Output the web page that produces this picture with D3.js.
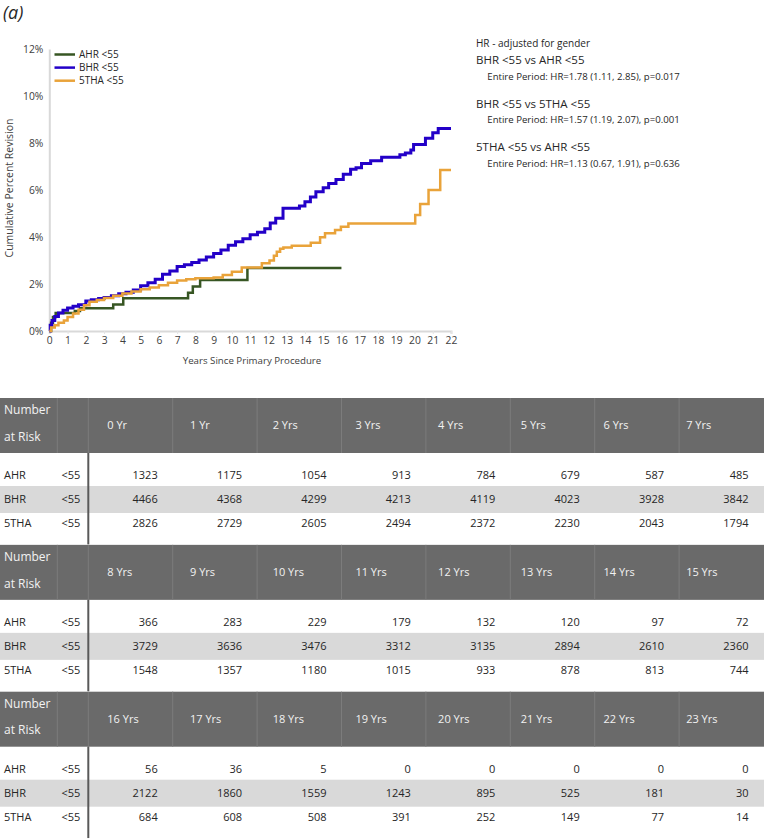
<!DOCTYPE html>
<html>
<head>
<meta charset="utf-8">
<script src="https://cdn.jsdelivr.net/npm/d3@7"></script>
<style>
  body { margin: 0; background: #fff; }
  svg { display: block; font-family: "Open Sans", sans-serif; }
</style>
</head>
<body>
<svg id="myGraph" width="765" height="839"></svg>
<script>
// survival curves (cumulative percent revision)
var ahrYears = [0, 0.1, 0.2, 0.35, 1.4, 1.68, 3.5, 4.05, 7.6, 7.86, 8.26, 10.85, 16.0];
var ahrPct   = [0, 0.35, 0.6, 0.77, 0.85, 0.97, 1.13, 1.39, 1.63, 1.89, 2.17, 2.68, 2.68];

var bhrYears = [0, 0.05, 0.15, 0.3, 0.5, 0.75, 1.0, 1.3, 1.6, 2.0, 2.3, 2.7, 3.0, 3.4, 3.8, 4.2, 4.6, 5.0, 5.4, 5.8,
                6.2, 6.6, 7.0, 7.4, 7.8, 8.2, 8.6, 9.0, 9.4, 9.8, 10.2, 10.6, 11.0, 11.4, 11.8, 12.1, 12.4, 12.8, 13.7,
                14.0, 14.3, 14.6, 15.0, 15.3, 15.7, 16.1, 16.5, 16.8, 17.1, 17.6, 18.2, 19.2, 19.5, 19.8, 19.95, 20.6,
                21.0, 21.3, 22];
var bhrPct   = [0, 0.25, 0.45, 0.62, 0.77, 0.88, 0.98, 1.05, 1.12, 1.28, 1.33, 1.38, 1.43, 1.5, 1.58, 1.65, 1.75, 1.93, 2.05, 2.2,
                2.42, 2.55, 2.75, 2.82, 2.92, 3.02, 3.15, 3.3, 3.45, 3.65, 3.8, 3.93, 4.1, 4.2, 4.35, 4.6, 4.8, 5.22, 5.32,
                5.5, 5.7, 5.93, 6.1, 6.28, 6.45, 6.67, 6.88, 6.95, 7.13, 7.25, 7.39, 7.5, 7.57, 7.7, 7.94, 8.2,
                8.44, 8.62, 8.62];

var thaYears = [0, 0.1, 0.3, 0.5, 0.8, 1.0, 1.3, 1.6, 1.9, 2.2, 2.6, 3.0, 3.5, 4.0, 4.5, 5.0, 5.5, 6.0, 6.5, 7.0, 7.5,
                8.0, 9.0, 9.5, 10.0, 10.54, 11.64, 12.06, 12.3, 12.46, 12.64, 12.82, 13.28, 14.32, 14.83, 15.1, 15.65,
                15.97, 16.38, 20.04, 20.31, 20.77, 21.41, 22];
var thaPct   = [0, 0.15, 0.25, 0.35, 0.45, 0.6, 0.75, 0.9, 1.1, 1.25, 1.32, 1.4, 1.5, 1.6, 1.68, 1.78, 1.85, 1.95, 2.05, 2.15, 2.2,
                2.24, 2.28, 2.38, 2.52, 2.7, 2.88, 3.0, 3.2, 3.37, 3.5, 3.55, 3.63, 3.76, 3.99, 4.16, 4.3,
                4.44, 4.57, 4.94, 5.4, 6.0, 6.85, 6.85];

var seriesNames = ["AHR <55", "BHR <55", "5THA <55"];
var yTicks = [0, 2, 4, 6, 8, 10, 12];
var xTicks = d3.range(0, 23);

var hrTitles = ["BHR <55 vs AHR <55", "BHR <55 vs 5THA <55", "5THA <55 vs AHR <55"];
var hrTexts = ["Entire Period: HR=1.78 (1.11, 2.85), p=0.017",
               "Entire Period: HR=1.57 (1.19, 2.07), p=0.001",
               "Entire Period: HR=1.13 (0.67, 1.91), p=0.636"];

// number at risk table
var riskYears = ["0 Yr", "1 Yr", "2 Yrs", "3 Yrs", "4 Yrs", "5 Yrs", "6 Yrs", "7 Yrs",
                 "8 Yrs", "9 Yrs", "10 Yrs", "11 Yrs", "12 Yrs", "13 Yrs", "14 Yrs", "15 Yrs",
                 "16 Yrs", "17 Yrs", "18 Yrs", "19 Yrs", "20 Yrs", "21 Yrs", "22 Yrs", "23 Yrs"];
var riskGroups = ["AHR", "BHR", "5THA"];
var ahrRisk = [1323, 1175, 1054, 913, 784, 679, 587, 485, 366, 283, 229, 179, 132, 120, 97, 72, 56, 36, 5, 0, 0, 0, 0, 0];
var bhrRisk = [4466, 4368, 4299, 4213, 4119, 4023, 3928, 3842, 3729, 3636, 3476, 3312, 3135, 2894, 2610, 2360,
               2122, 1860, 1559, 1243, 895, 525, 181, 30];
var thaRisk = [2826, 2729, 2605, 2494, 2372, 2230, 2043, 1794, 1548, 1357, 1180, 1015, 933, 878, 813, 744,
               684, 608, 508, 391, 252, 149, 77, 14];

var colors = ["#375623", "#2300c8", "#e9a33a"];
var widths = [2.5, 3, 2.5];

var svg = d3.select("#myGraph");

svg.append("text").attr("x", 3).attr("y", 19)
	.style("font-size", "18px").style("font-style", "italic").attr("fill", "#262626")
	.text("(a)");

var x = d3.scaleLinear().domain([0, 22]).range([49.3, 451]);
var y = d3.scaleLinear().domain([0, 12]).range([331, 49]);

// axes
var yAxis = svg.append("g").attr("transform", "translate(49.3,0)")
	.call(d3.axisLeft(y).tickValues(yTicks).tickSize(0).tickPadding(6).tickFormat(function(d){ return d + "%"; }));
var xAxis = svg.append("g").attr("transform", "translate(0,331)")
	.call(d3.axisBottom(x).tickValues(xTicks).tickSize(3).tickPadding(3).tickFormat(d3.format("d")));

[yAxis, xAxis].forEach(function(a){
	a.select(".domain").attr("stroke", "#d9d9d9").attr("stroke-width", 2);
	a.selectAll(".tick line").attr("stroke", "#e4e4e4");
	a.selectAll("text").style("font-size", "10.3px").attr("fill", "#404040").attr("font-family", "Open Sans");
});

svg.append("text")
	.attr("transform", "translate(13,188) rotate(-90)")
	.attr("text-anchor", "middle").style("font-size", "10.5px").attr("fill", "#404040")
	.text("Cumulative Percent Revision");
svg.append("text")
	.attr("x", 252).attr("y", 364)
	.attr("text-anchor", "middle").style("font-size", "9.7px").attr("fill", "#404040")
	.text("Years Since Primary Procedure");

// curves
var lineGen = d3.line()
	.x(function(d){ return x(d[0]); })
	.y(function(d){ return y(d[1]); })
	.curve(d3.curveStepAfter);

var curves = [d3.zip(ahrYears, ahrPct), d3.zip(bhrYears, bhrPct), d3.zip(thaYears, thaPct)];

svg.append("g").selectAll("path")
	.data(curves)
	.enter()
	.append("path")
	.attr("d", lineGen)
	.attr("fill", "none")
	.attr("stroke", function(d, i){ return colors[i]; })
	.attr("stroke-width", function(d, i){ return widths[i]; });

// legend
var legend = svg.append("g").selectAll("g")
	.data(seriesNames)
	.enter()
	.append("g")
	.attr("transform", function(d, i){ return "translate(54.5," + (54.5 + i * 13.1) + ")"; });
legend.append("line")
	.attr("x1", 0).attr("x2", 20.5)
	.attr("stroke", function(d, i){ return colors[i]; })
	.attr("stroke-width", 2.5);
legend.append("text")
	.attr("x", 24.5).attr("dy", "0.35em")
	.style("font-size", "10px").attr("fill", "#262626")
	.text(function(d){ return d; });

// hazard ratio notes
svg.append("text").attr("x", 476).attr("y", 47.3)
	.style("font-size", "10px").attr("fill", "#262626")
	.text("HR - adjusted for gender");
var notes = svg.append("g").selectAll("g")
	.data(hrTitles)
	.enter()
	.append("g")
	.attr("transform", function(d, i){ return "translate(476," + (64.3 + i * 43.4) + ")"; });
notes.append("text")
	.style("font-size", "11.5px").attr("fill", "#262626")
	.text(function(d){ return d; });
notes.append("text")
	.attr("x", 11.3).attr("y", 15.8)
	.style("font-size", "9.6px").attr("fill", "#262626")
	.text(function(d, i){ return hrTexts[i]; });

// number at risk table, three blocks of eight columns
var tableTop = 398, blockH = 146.85, headH = 55;
var colX0 = 88.3, colW = 84.4, labelColX = 57.3;
var rowMid = [22.5, 46.5, 70];
var riskRows = [ahrRisk, bhrRisk, thaRisk];

var blocks = svg.append("g").selectAll("g")
	.data([0, 1, 2])
	.enter()
	.append("g")
	.attr("transform", function(b){ return "translate(0," + (tableTop + b * blockH) + ")"; });

blocks.append("rect")
	.attr("x", 0).attr("width", 764).attr("height", headH)
	.attr("fill", "#6a6a6a");
blocks.append("rect")
	.attr("x", 0).attr("y", headH + 33).attr("width", 764).attr("height", 27)
	.attr("fill", "#d9d9d9");

blocks.selectAll(".hdiv")
	.data(function(){ return [labelColX].concat(d3.range(8).map(function(k){ return colX0 + k * colW; })); })
	.enter()
	.append("line")
	.attr("class", "hdiv")
	.attr("x1", function(d){ return d; }).attr("x2", function(d){ return d; })
	.attr("y1", 0).attr("y2", headH)
	.attr("stroke", "#7c7c7c").attr("stroke-width", 1);

blocks.append("line")
	.attr("x1", colX0).attr("x2", colX0)
	.attr("y1", headH).attr("y2", blockH - 0.5)
	.attr("stroke", "#595959").attr("stroke-width", 2);

blocks.append("text")
	.attr("x", 4).attr("y", headH / 2 - 15.5).attr("dy", "0.35em")
	.style("font-size", "12px").attr("fill", "#f2f2f2")
	.text("Number");
blocks.append("text")
	.attr("x", 4).attr("y", headH / 2 + 11).attr("dy", "0.35em")
	.style("font-size", "12px").attr("fill", "#f2f2f2")
	.text("at Risk");

blocks.selectAll(".yr")
	.data(function(b){ return riskYears.slice(b * 8, b * 8 + 8); })
	.enter()
	.append("text")
	.attr("class", "yr")
	.attr("x", function(d, k){ return colX0 + 19 + k * 82.7; })
	.attr("y", headH / 2).attr("dy", "0.35em")
	.style("font-size", "11px").attr("fill", "#f2f2f2")
	.text(function(d){ return d; });

blocks.selectAll(".grp")
	.data(riskGroups)
	.enter()
	.append("text")
	.attr("class", "grp")
	.attr("x", 4).attr("y", function(d, r){ return headH + rowMid[r]; }).attr("dy", "0.35em")
	.style("font-size", "11px").attr("fill", "#262626")
	.text(function(d){ return d; });

blocks.selectAll(".age")
	.data(riskGroups)
	.enter()
	.append("text")
	.attr("class", "age")
	.attr("x", 61.5).attr("y", function(d, r){ return headH + rowMid[r]; }).attr("dy", "0.35em")
	.style("font-size", "11px").attr("fill", "#262626")
	.text("<55");

blocks.each(function(b){
	var g = d3.select(this);
	riskRows.forEach(function(vals, r){
		g.selectAll(".v" + r)
			.data(vals.slice(b * 8, b * 8 + 8))
			.enter()
			.append("text")
			.attr("class", "v" + r)
			.attr("x", function(d, k){ return colX0 + (k + 1) * colW - 15; })
			.attr("y", headH + rowMid[r]).attr("dy", "0.35em")
			.attr("text-anchor", "end")
			.style("font-size", "11px").attr("fill", "#262626")
			.text(function(d){ return d; });
	});
});
</script>
</body>
</html>
